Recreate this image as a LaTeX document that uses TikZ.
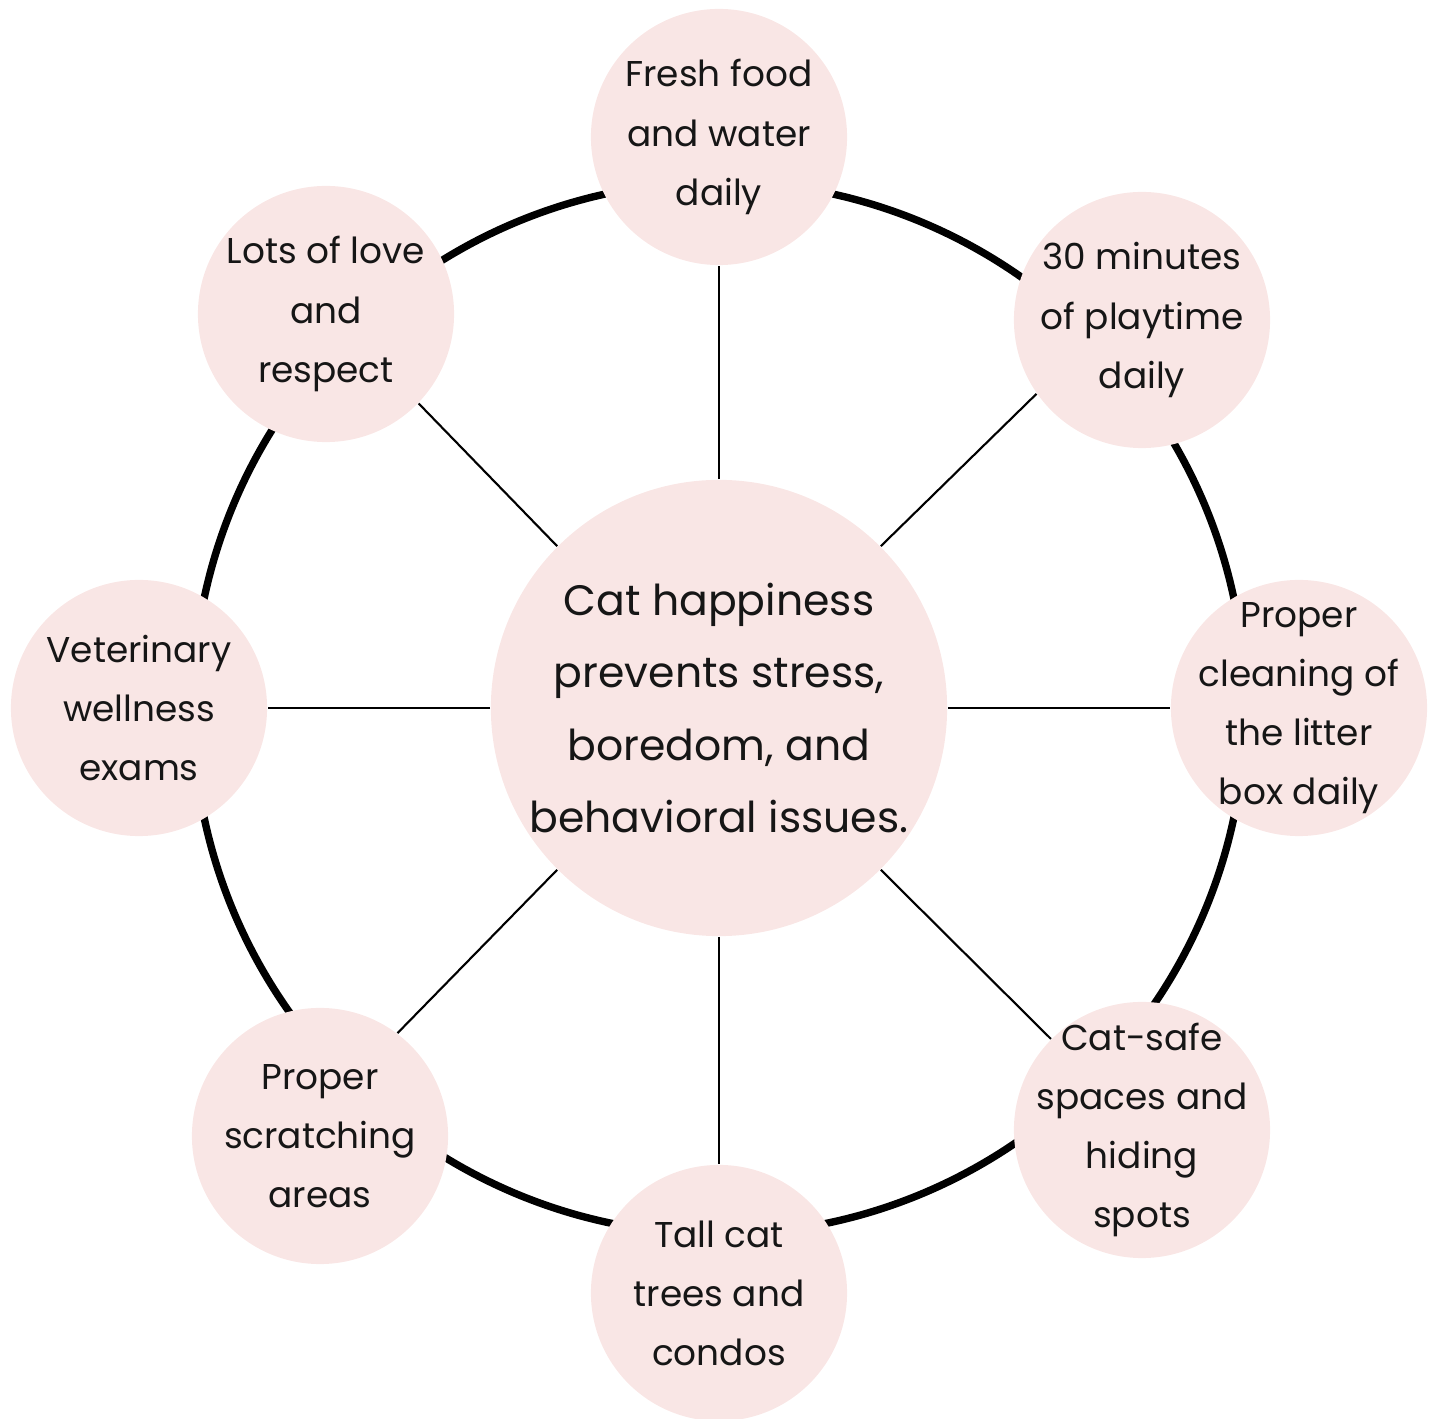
\documentclass[tikz,border=0pt]{standalone}
\usepackage{fontspec}
\setmainfont{Poppins}
\definecolor{blush}{HTML}{F9E6E5}
\definecolor{ink}{HTML}{161616}
\begin{document}
\begin{tikzpicture}[x=0.01cm,y=-0.01cm,
  need/.style={circle, fill=blush, minimum size=2.56cm, inner sep=-14pt,
    align=center, text=ink, font=\fontsize{10.2}{16.8}\selectfont},
  hubnode/.style={circle, fill=blush, minimum size=4.56cm, inner sep=0pt,
    align=center, text=ink, font=\fontsize{12.1}{20.5}\selectfont},
  spoke/.style={line width=0.6pt, black}]
  \useasboundingbox (0,0) rectangle (1435,1419);
  % outer ring behind the needs
  \draw[line width=2.1pt] (719,708) circle (5.26cm);
  % hub and needs
  \node[hubnode] (hub) at (719,708) {Cat happiness\\prevents stress,\\boredom, and\\behavioral issues.};
  \node[need] (food) at (719,137) {Fresh food\\and water\\daily};
  \node[need] (play) at (1142,320) {30 minutes\\of playtime\\daily};
  \node[need] (litter) at (1299,708) {Proper\\cleaning of\\the litter\\box daily};
  \node[need] (spaces) at (1142,1130) {Cat-safe\\spaces and\\hiding\\spots};
  \node[need] (trees) at (719,1293) {Tall cat\\trees and\\condos};
  \node[need] (scratch) at (320,1136) {Proper\\scratching\\areas};
  \node[need] (vet) at (139,708) {Veterinary\\wellness\\exams};
  \node[need] (love) at (326,314) {Lots of love\\and\\respect};
  % spokes
  \foreach \a/\n/\b in {90/food/270, 45/play/215, 0/litter/180, 315/spaces/135,
                        270/trees/90, 225/scratch/53, 180/vet/0, 135/love/316}
    \draw[spoke] (hub.\a) -- (\n.\b);
\end{tikzpicture}
\end{document}
